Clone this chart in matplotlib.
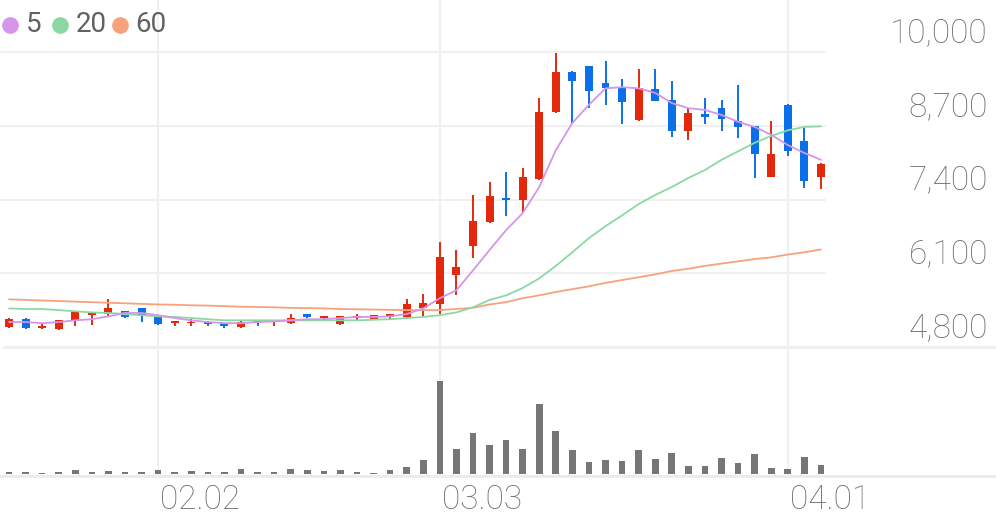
import matplotlib
matplotlib.use("Agg")
import matplotlib.pyplot as plt
import matplotlib.transforms as mtrans
from matplotlib.lines import Line2D
import numpy as np

# ---------------- data ----------------
opens = [5150, 5290, 5140, 5110, 5250, 5370, 5380, 5430, 5480, 5330,
         5230, 5220, 5240, 5220, 5150, 5270, 5240, 5220, 5380, 5310,
         5200, 5310, 5290, 5330, 5330, 5480, 5550, 6070, 6580, 7000,
         7420, 7390, 7760, 8940, 9650, 9750, 9450, 9380, 8800, 9350,
         9150, 8610, 8910, 9010, 8780, 8690, 7800, 9070, 8430, 7800]
highs = [5310, 5310, 5200, 5280, 5420, 5400, 5640, 5440, 5490, 5340,
         5260, 5290, 5260, 5230, 5250, 5280, 5280, 5380, 5390, 5350,
         5350, 5380, 5370, 5390, 5640, 5730, 6650, 6510, 7480, 7710,
         7880, 7950, 9190, 9990, 9660, 9760, 9840, 9520, 9700, 9700,
         9490, 9010, 9190, 9150, 9420, 8700, 8780, 9080, 8660, 8040]
lows = [5130, 5110, 5120, 5100, 5170, 5180, 5340, 5310, 5240, 5190,
        5170, 5170, 5170, 5130, 5140, 5170, 5170, 5210, 5320, 5250,
        5190, 5270, 5270, 5270, 5290, 5340, 5380, 5710, 6370, 6990,
        7110, 7180, 7750, 8930, 8730, 9010, 9070, 8730, 8790, 9130,
        8500, 8450, 8730, 8610, 8480, 7780, 7790, 8170, 7600, 7580]
closes = [5290, 5130, 5170, 5270, 5410, 5400, 5480, 5330, 5360, 5200,
          5250, 5240, 5200, 5170, 5240, 5240, 5270, 5310, 5330, 5340,
          5340, 5340, 5360, 5380, 5550, 5570, 6380, 6210, 7020, 7460,
          7390, 7800, 8940, 9650, 9490, 9310, 9360, 9120, 9360, 9140,
          8610, 8920, 8850, 8820, 8680, 8200, 8200, 8250, 7720, 8020]
volumes = [100, 115, 50, 100, 185, 100, 165, 115, 115, 185,
           85, 135, 100, 115, 235, 115, 100, 235, 185, 135,
           185, 100, 65, 185, 365, 685, 4665, 1265, 2050, 1465,
           1685, 1235, 3515, 2135, 1185, 585, 700, 665, 1200, 765,
           1065, 415, 385, 785, 550, 985, 300, 250, 850, 435]
ma5 = [5240, 5240, 5220, 5240, 5270, 5290, 5340, 5400, 5400, 5360,
       5310, 5270, 5240, 5220, 5220, 5240, 5250, 5270, 5290, 5290,
       5310, 5330, 5330, 5340, 5380, 5480, 5660, 5800, 6150, 6510,
       6860, 7160, 7620, 8270, 8750, 9070, 9360, 9380, 9360, 9280,
       9100, 9010, 8980, 8890, 8770, 8680, 8540, 8360, 8220, 8100]
ma20 = [5480, 5470, 5470, 5450, 5430, 5410, 5400, 5380, 5360, 5340,
        5330, 5310, 5290, 5270, 5270, 5270, 5270, 5270, 5270, 5270,
        5270, 5270, 5280, 5290, 5310, 5330, 5360, 5410, 5500, 5630,
        5710, 5840, 6010, 6230, 6470, 6720, 6930, 7120, 7320, 7480,
        7620, 7780, 7920, 8100, 8250, 8400, 8520, 8620, 8680, 8690]
ma60 = [5640, 5630, 5620, 5610, 5600, 5590, 5580, 5570, 5560, 5550,
        5545, 5535, 5530, 5520, 5510, 5505, 5500, 5490, 5485, 5480,
        5470, 5465, 5460, 5455, 5450, 5450, 5450, 5470, 5490, 5550,
        5590, 5660, 5710, 5770, 5820, 5870, 5930, 5980, 6030, 6080,
        6140, 6180, 6230, 6270, 6310, 6350, 6380, 6430, 6470, 6520]
price_ticks = [10000, 8700, 7400, 6100, 4800]
date_idx = [9, 26, 47]
date_labels = ["02.02", "03.03", "04.01"]
ma_labels = ["5", "20", "60"]

# ---------------- style ----------------
RED = "#E2290B"
BLUE = "#0B6FEA"
VOLC = "#767676"
MA_COLORS = ["#D595E8", "#8BD9A2", "#F7A27C"]
GRID = "#F0F0F0"
TXT = "#6E6E6E"
FONT = ["Roboto", "DejaVu Sans"]

W, H = 996, 519
fig = plt.figure(figsize=(W / 100, H / 100), dpi=100)
fig.patch.set_facecolor("white")

def fx(px):
    return px / W

def fy(py):
    return 1 - py / H

n = len(closes)
x = np.arange(n)
step = 16.57
x0 = -9 / step
x1 = (826 - 9) / step

# price axes: y 0..347 px, x 0..826 px
ax = fig.add_axes([0, fy(347), fx(826), 347 / H])
top_val = 10000 + 52 * 1300 / 73.7
ax.set_ylim(4800, top_val)
ax.set_xlim(x0, x1)
ax.axis("off")

# volume axes: y 350..474 px
vax = fig.add_axes([0, fy(474), fx(826), 124 / H])
vax.set_xlim(x0, x1)
vax.set_ylim(0, 124 * 4665 / 93)
vax.axis("off")

# horizontal grid lines (price)
for v in price_ticks[:-1]:
    ax.axhline(v, color=GRID, lw=1.5, zorder=0)
# separator at 4800 and bottom line (full width)
fig.add_artist(Line2D([fx(4), 1], [fy(347), fy(347)], color="#EEEEEE", lw=2.0, zorder=0))
fig.add_artist(Line2D([0, 1], [fy(475.5), fy(475.5)], color="#EBEBEB", lw=2.0, zorder=0))

# vertical grid lines
for d in date_idx:
    ax.axvline(d, color=GRID, lw=1.5, zorder=0)
    vax.axvline(d, ymin=-2 / 124, ymax=1 + 3 / 124, color=GRID, lw=1.5, zorder=0, clip_on=False)

# candles
o = np.array(opens, float)
c = np.array(closes, float)
hgh = np.array(highs, float)
low = np.array(lows, float)
colors = [RED if ci >= oi else BLUE for oi, ci in zip(o, c)]
body_bottom = np.minimum(o, c)
body_h = np.maximum(np.abs(c - o), 25)
ax.vlines(x, low, hgh, colors=colors, lw=1.4, zorder=3)
ax.bar(x, body_h, bottom=body_bottom, width=0.48, color=colors, zorder=4, linewidth=0)

# moving averages
for series, col in zip([ma60, ma20, ma5], MA_COLORS[::-1]):
    ax.plot(x, series, color=col, lw=1.3, zorder=5, solid_capstyle="round")

# volume bars
vax.bar(x, volumes, width=0.4, color=VOLC, linewidth=0, zorder=3)

# right price labels
for v in price_ticks:
    tr = mtrans.blended_transform_factory(fig.transFigure, ax.transData)
    tr = mtrans.offset_copy(tr, fig=fig, y=10, units="dots")
    fig.text(fx(988), v, f"{v:,}", transform=tr, ha="right", va="baseline",
             fontsize=24, color=TXT, family=FONT, fontweight="light")

# date labels
for d, lab in zip(date_idx, date_labels):
    tr = mtrans.blended_transform_factory(vax.transData, fig.transFigure)
    tr = mtrans.offset_copy(tr, fig=fig, x=2, units="dots")
    fig.text(d, fy(500), lab, transform=tr, ha="left", va="center",
             fontsize=24, color=TXT, family=FONT, fontweight="light")

# legend
circ_x = [10, 60, 120]
text_x = [26, 76, 135]
for cx, tx, lab, col in zip(circ_x, text_x, ma_labels, MA_COLORS):
    fig.add_artist(Line2D([fx(cx)], [fy(25)], marker="o", markersize=11,
                          markerfacecolor=col, markeredgecolor=col, linestyle="none"))
    fig.text(fx(tx), fy(25), lab, ha="left", va="center", fontsize=20,
             color="#616161", family=FONT, fontweight="normal")

fig.savefig("out.png", dpi=100, facecolor="white")
